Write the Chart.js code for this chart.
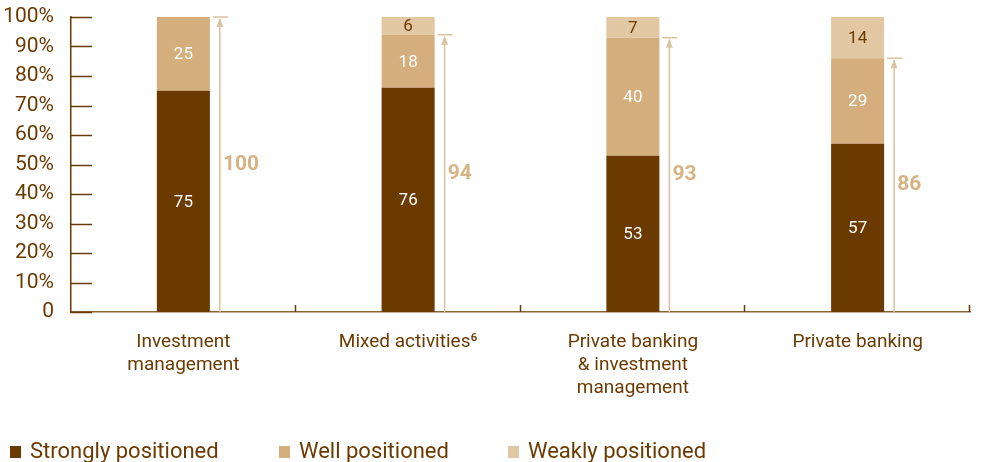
<!DOCTYPE html>
<html>
<head>
<meta charset="utf-8">
<script src="https://cdn.jsdelivr.net/npm/chart.js@4.4.1/dist/chart.umd.min.js"></script>
<style>
  html, body { margin: 0; padding: 0; background: #fff; }
  #wrap { position: relative; width: 981px; height: 462px; }
</style>
</head>
<body>
<div id="wrap"><canvas id="positionChart"></canvas></div>
<script>
// Chart data
const categories = [
    ['Investment', 'management'],
    'Mixed activities\u2076',
    ['Private banking', '& investment', 'management'],
    'Private banking'
];
const strongly = [75, 76, 53, 57];
const well = [25, 18, 40, 29];
const weakly = [0, 6, 7, 14];
const totals = [100, 94, 93, 86];
const yTicks = [0, 10, 20, 30, 40, 50, 60, 70, 80, 90, 100];

// Colours
const DARK = '#6b3a00';
const MID = '#d4ae7c';
const LIGHT = '#e1c7a2';
const ARROW = '#dcc29d';
const FONT = "Roboto, 'Liberation Sans', Arial, sans-serif";

// Segment values written inside the bars
const segmentLabels = {
    id: 'segmentLabels',
    afterDatasetsDraw(chart) {
        const ctx = chart.ctx;
        ctx.save();
        ctx.font = '17px ' + FONT;
        ctx.textAlign = 'center';
        ctx.textBaseline = 'middle';
        chart.data.datasets.forEach((ds, di) => {
            const meta = chart.getDatasetMeta(di);
            meta.data.forEach((bar, i) => {
                const v = ds.data[i];
                if (!v) return;
                ctx.fillStyle = di === 2 ? DARK : '#ffffff';
                ctx.fillText(v, bar.x, (bar.y + bar.base) / 2 + 1);
            });
        });
        ctx.restore();
    }
};

// Arrows next to each bar showing strongly + well positioned
const totalArrows = {
    id: 'totalArrows',
    afterDatasetsDraw(chart) {
        const ctx = chart.ctx;
        const y = chart.scales.y;
        const meta = chart.getDatasetMeta(0);
        ctx.save();
        ctx.lineWidth = 1.5;
        totals.forEach((t, i) => {
            const ax = meta.data[i].x + 36.5;
            const top = y.getPixelForValue(t);
            const bottom = y.getPixelForValue(0);
            ctx.strokeStyle = ARROW;
            ctx.fillStyle = ARROW;
            ctx.beginPath();
            ctx.moveTo(ax, bottom);
            ctx.lineTo(ax, top + 2);
            ctx.moveTo(ax - 7, top);
            ctx.lineTo(ax + 8, top);
            ctx.stroke();
            ctx.beginPath();
            ctx.moveTo(ax, top + 1);
            ctx.lineTo(ax - 3.5, top + 10);
            ctx.lineTo(ax + 3.5, top + 10);
            ctx.closePath();
            ctx.fill();
            ctx.font = 'bold 21px ' + FONT;
            ctx.fillStyle = '#d7b283';
            ctx.textAlign = 'left';
            ctx.textBaseline = 'middle';
            ctx.fillText(t, ax + 3, y.getPixelForValue(t / 2));
        });
        ctx.restore();
    }
};

// Inward y ticks, category boundary ticks and the bottom legend
const axisExtras = {
    id: 'axisExtras',
    afterDraw(chart) {
        const ctx = chart.ctx;
        const y = chart.scales.y;
        const area = chart.chartArea;
        ctx.save();
        ctx.strokeStyle = DARK;
        ctx.lineWidth = 1.5;
        yTicks.forEach(v => {
            const py = Math.round(y.getPixelForValue(v)) + 0.5;
            ctx.beginPath();
            ctx.moveTo(area.left, py);
            ctx.lineTo(area.left + 21, py);
            ctx.stroke();
        });
        const step = (area.right - area.left) / categories.length;
        for (let i = 1; i <= categories.length; i++) {
            const px = Math.round(area.left + step * i) - 0.5;
            ctx.beginPath();
            ctx.moveTo(px, area.bottom);
            ctx.lineTo(px, area.bottom - 7);
            ctx.stroke();
        }

        // legend
        const items = [
            { label: 'Strongly positioned', color: DARK, x: 10 },
            { label: 'Well positioned', color: MID, x: 279 },
            { label: 'Weakly positioned', color: LIGHT, x: 508 }
        ];
        ctx.font = '22px ' + FONT;
        ctx.textBaseline = 'middle';
        ctx.textAlign = 'left';
        items.forEach(it => {
            ctx.fillStyle = it.color;
            ctx.fillRect(it.x, 446, 11, 12);
            ctx.fillStyle = DARK;
            ctx.fillText(it.label, it.x + 20, 452);
        });
        ctx.restore();
    }
};

const ctx = document.getElementById('positionChart').getContext('2d');
new Chart(ctx, {
    type: 'bar',
    data: {
        labels: categories,
        datasets: [
            { label: 'Strongly positioned', data: strongly, backgroundColor: DARK },
            { label: 'Well positioned', data: well, backgroundColor: MID },
            { label: 'Weakly positioned', data: weakly, backgroundColor: LIGHT }
        ]
    },
    options: {
        responsive: true,
        maintainAspectRatio: false,
        animation: false,
        layout: { padding: { top: 17, right: 11, left: 0, bottom: 0 } },
        datasets: {
            bar: { barPercentage: 0.236, categoryPercentage: 1, borderWidth: 0 }
        },
        scales: {
            x: {
                stacked: true,
                grid: { display: false },
                border: { color: '#8a6535', width: 1.5 },
                ticks: {
                    color: DARK,
                    font: { family: FONT, size: 19, lineHeight: 1.2 },
                    padding: 11,
                    maxRotation: 0,
                    autoSkip: false
                },
                afterFit(scale) { scale.height = 150; }
            },
            y: {
                stacked: true,
                min: 0,
                max: 100,
                grid: { display: false },
                border: { color: DARK, width: 1.5 },
                ticks: {
                    stepSize: 10,
                    color: DARK,
                    font: { family: FONT, size: 21, lineHeight: 0.6 },
                    padding: 9,
                    callback: v => v === 0 ? '0' : v + '%'
                },
                afterFit(scale) { scale.width = 71; }
            }
        },
        plugins: {
            legend: { display: false },
            tooltip: { enabled: false }
        }
    },
    plugins: [segmentLabels, totalArrows, axisExtras]
});
</script>
</body>
</html>
